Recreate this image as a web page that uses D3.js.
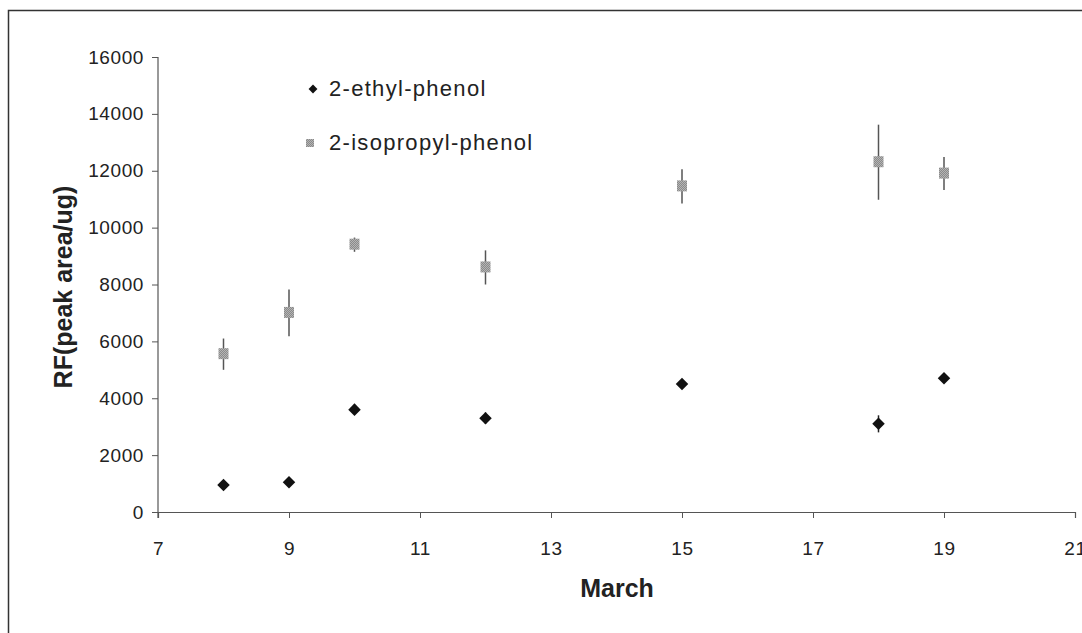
<!DOCTYPE html>
<html>
<head>
<meta charset="utf-8">
<script src="https://cdn.jsdelivr.net/npm/d3@7"></script>
<style>
  body { margin: 0; background: #fff; }
  text { font-family: "Liberation Sans", Arial, sans-serif; fill: #222; }
</style>
</head>
<body>
<div id="chart"></div>
<script>
// data
var days = [8, 9, 10, 12, 15, 18, 19];
var ethyl = [950, 1050, 3600, 3300, 4500, 3100, 4700];
var ethylErr = [80, 80, 120, 200, 120, 300, 120];
var isopropyl = [5550, 7000, 9400, 8600, 11450, 12300, 11900];
var isopropylErr = [550, 820, 250, 600, 600, 1320, 580];
var xTicks = [7, 9, 11, 13, 15, 17, 19, 21];
var yTicks = [0, 2000, 4000, 6000, 8000, 10000, 12000, 14000, 16000];
var seriesNames = ["2-ethyl-phenol", "2-isopropyl-phenol"];

var W = 1082, H = 633;
var margin = {top: 57, right: 7, bottom: 121, left: 158},
    width = W - margin.left - margin.right,
    height = H - margin.top - margin.bottom;

var svg = d3.select("#chart")
  .append("svg")
    .attr("width", W)
    .attr("height", H);

// outer frame
svg.append("rect")
    .attr("x", 8.5)
    .attr("y", 10.5)
    .attr("width", W + 20)
    .attr("height", H + 20)
    .attr("fill", "none")
    .attr("stroke", "#333")
    .attr("stroke-width", 1.5);

// dithered grey for the squares
var defs = svg.append("defs");
var pat = defs.append("pattern")
    .attr("id", "dither")
    .attr("width", 2)
    .attr("height", 2)
    .attr("patternUnits", "userSpaceOnUse");
pat.append("rect").attr("width", 2).attr("height", 2).attr("fill", "#b4b4b4");
pat.append("rect").attr("width", 1).attr("height", 1).attr("fill", "#8a8a8a");
pat.append("rect").attr("x", 1).attr("y", 1).attr("width", 1).attr("height", 1).attr("fill", "#8a8a8a");

var g = svg.append("g")
    .attr("transform", "translate(" + margin.left + "," + margin.top + ")");

var x = d3.scaleLinear()
    .domain([7, 21])
    .range([0, width]);
var y = d3.scaleLinear()
    .domain([0, 16000])
    .range([height, 0]);

// axes
var yAxis = g.append("g")
    .call(d3.axisLeft(y).tickValues(yTicks).tickSize(6).tickPadding(8).tickFormat(d3.format("d")));
var xAxis = g.append("g")
    .attr("transform", "translate(0," + height + ")")
    .call(d3.axisBottom(x).tickValues(xTicks).tickSize(6).tickPadding(24).tickFormat(d3.format("d")));

g.selectAll(".domain").attr("stroke", "#555").attr("stroke-width", 1.2);
g.selectAll(".tick line").attr("stroke", "#555");
g.selectAll(".tick text")
    .style("font-size", "19px")
    .style("letter-spacing", "0.6px")
    .attr("fill", "#333");
yAxis.select(".domain").attr("d", "M0,0V" + (height + 6));

// error bars
var iso = days.map(function(d, i) { return {day: d, v: isopropyl[i], e: isopropylErr[i]}; });
var eth = days.map(function(d, i) { return {day: d, v: ethyl[i], e: ethylErr[i]}; });

g.append("g").selectAll("line")
    .data(iso)
    .enter()
    .append("line")
      .attr("x1", function(d) { return x(d.day); })
      .attr("x2", function(d) { return x(d.day); })
      .attr("y1", function(d) { return y(d.v - d.e); })
      .attr("y2", function(d) { return y(d.v + d.e); })
      .attr("stroke", "#555")
      .attr("stroke-width", 1.5);

g.append("g").selectAll("line")
    .data(eth)
    .enter()
    .append("line")
      .attr("x1", function(d) { return x(d.day); })
      .attr("x2", function(d) { return x(d.day); })
      .attr("y1", function(d) { return y(d.v - d.e); })
      .attr("y2", function(d) { return y(d.v + d.e); })
      .attr("stroke", "#222")
      .attr("stroke-width", 1.5);

// squares (2-isopropyl-phenol)
g.append("g").selectAll("rect")
    .data(iso)
    .enter()
    .append("rect")
      .attr("x", function(d) { return x(d.day) - 5; })
      .attr("y", function(d) { return y(d.v) - 6; })
      .attr("width", 10)
      .attr("height", 11)
      .attr("fill", "url(#dither)");

// diamonds (2-ethyl-phenol)
var diamond = d3.symbol().type(d3.symbolDiamond2).size(100);
g.append("g").selectAll("path")
    .data(eth)
    .enter()
    .append("path")
      .attr("d", diamond)
      .attr("transform", function(d) { return "translate(" + x(d.day) + "," + y(d.v) + ")"; })
      .attr("fill", "#111");

// legend
var legend = svg.append("g");
legend.append("path")
    .attr("d", d3.symbol().type(d3.symbolDiamond2).size(50))
    .attr("transform", "translate(313,89)")
    .attr("fill", "#111");
legend.append("rect")
    .attr("x", 306)
    .attr("y", 139)
    .attr("width", 8)
    .attr("height", 8)
    .attr("fill", "url(#dither)");
legend.selectAll("text.lg")
    .data(seriesNames)
    .enter()
    .append("text")
      .attr("class", "lg")
      .attr("x", 329)
      .attr("y", function(d, i) { return 96 + i * 54; })
      .style("font-size", "22px")
      .style("letter-spacing", "1.3px")
      .text(function(d) { return d; });

// axis titles
svg.append("text")
    .attr("x", 617)
    .attr("y", 597)
    .attr("text-anchor", "middle")
    .style("font-size", "25px")
    .style("font-weight", "bold")
    .text("March");

svg.append("text")
    .attr("transform", "translate(72," + 287 + ") rotate(-90)")
    .attr("text-anchor", "middle")
    .style("font-size", "25px")
    .style("font-weight", "bold")
    .text("RF(peak area/ug)");
</script>
</body>
</html>
